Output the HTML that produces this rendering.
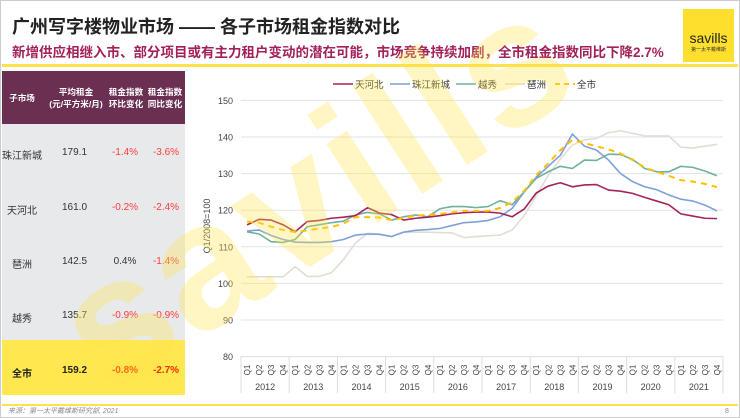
<!DOCTYPE html>
<html style="width:740px;height:418px;overflow:hidden"><head><meta charset="utf-8"><style>
*{box-sizing:border-box}
body{margin:0;width:740px;height:418px;overflow:hidden;background:#fff;font-family:"Liberation Sans","Noto Sans CJK SC",sans-serif;position:relative}
.abs{position:absolute}
svg{display:block;overflow:hidden}
#tbl div{position:absolute;text-align:center;font-size:10px;color:#333}
#tbl div.h{font-size:8.6px;color:#fff;font-weight:bold;line-height:12px}
</style></head><body>
<div class="abs" style="left:0;top:0;width:740px;height:418px;border:1px solid #ccc"></div>
<div class="abs" style="left:12px;top:13px;font-size:18px;font-weight:bold;color:#222;white-space:nowrap">广州写字楼物业市场 —— 各子市场租金指数对比</div>
<div class="abs" style="left:12px;top:41px;font-size:13.5px;font-weight:bold;color:#a3205a;white-space:nowrap">新增供应相继入市、部分项目或有主力租户变动的潜在可能，市场竞争持续加剧，全市租金指数同比下降2.7%</div>
<div class="abs" style="left:683px;top:9px;width:51px;height:53px;background:#ffdf2e;text-align:center">
<div style="margin-top:21px;font-size:14px;color:#222">savills</div><div style="font-size:5px;color:#333">第一太平戴维斯</div></div>
<div class="abs" style="left:2px;top:64px;width:736px;height:3px;background:#ffe14a"></div>
<div class="abs" style="left:2px;top:404px;width:736px;height:2px;background:#ffe14a"></div>
<div class="abs" style="left:8px;top:407px;font-size:7px;line-height:9px;font-style:italic;color:#888">来源：第一太平戴维斯研究部, 2021</div>
<div class="abs" style="left:725px;top:407px;font-size:7px;line-height:9px;color:#888">8</div>

<div id="tbl">
<div style="left:2px;top:71px;width:183px;height:53px;background:#6b2f52"></div>
<div style="left:2px;top:124px;width:183px;height:216px;background:#e8e9eb"></div>
<div style="left:2px;top:340px;width:183px;height:55px;background:#ffe84f"></div>
<div class="h" style="left:2px;top:92px;width:40px">子市场</div>
<div class="h" style="left:44px;top:86px;width:64px">平均租金<br>(元/平方米/月)</div>
<div class="h" style="left:106px;top:86px;width:40px">租金指数<br>环比变化</div>
<div class="h" style="left:145px;top:86px;width:40px">租金指数<br>同比变化</div>
</div>

<svg class="abs" style="left:0;top:0" width="740" height="418" id="chart"></svg>
<svg class="abs" style="left:0;top:0;pointer-events:none" width="740" height="418">
<text x="108" y="398" transform="rotate(-33 108 398)" font-family="Liberation Sans" font-size="178" font-weight="bold" letter-spacing="4" fill="#ffe44d" opacity="0.33">savills</text>
</svg>

<script>
const rows=[["珠江新城","179.1","-1.4%","-3.6%"],["天河北","161.0","-0.2%","-2.4%"],["琶洲","142.5","0.4%","-1.4%"],["越秀","135.7","-0.9%","-0.9%"],["全市","159.2","-0.8%","-2.7%"]];
const tbl=document.getElementById('tbl');
rows.forEach((r,k)=>{
  const y=[147,202,256,310,365][k];
  const cx=[[2,40],[52,45],[104,42],[146,40]];
  r.forEach((t,j)=>{
    const d=document.createElement('div');
    
    
    d.style.left=cx[j][0]+'px';d.style.top=y+'px';d.style.width=cx[j][1]+'px';
    if(j>=2&&t[0]=='-')d.style.color='#ff3b3b';
    if(k==4){d.style.fontWeight='bold';if(j>=2)d.style.color='#ff2a00';else d.style.color='#222';}
    d.textContent=t;tbl.appendChild(d);
  });
});

const years=["2012","2013","2014","2015","2016","2017","2018","2019","2020","2021"];
const quarters=["Q1","Q2","Q3","Q4"];
const yTicks=[80,90,100,110,120,130,140,150];
const tianhebei=[116,117.5,117.3,116,114.1,116.9,117.2,117.8,118.1,118.5,120.7,119.2,118.8,117.3,117.8,118.1,118.5,119,119.3,119.5,119.5,119.2,118.2,120.3,124.7,126.6,127.5,126.4,126.9,127,125.5,125.2,124.6,123.5,122.5,121.5,119,118.4,117.8,117.7];
const zhujiang=[114.3,114.6,113.1,112,111.3,111.2,111.2,111.4,112,113.2,113.5,113.4,112.8,114,114.5,114.7,115,115.8,116.6,116.8,117.2,118.2,120.5,125,129,132,135,140.8,137.5,136.4,133.7,130,127.8,126.4,125.6,124.2,123,122.5,121.4,119.8];
const yuexiu=[114.1,113.5,111.4,111.2,112,115.5,116,116.6,117,118.7,119.4,119,117.3,118.2,118.7,118.2,120.4,121,121,120.7,121,122.6,121.5,125,128.7,130.5,132,131.4,133.7,133.6,135.3,135.2,133.9,131.4,130.5,130.5,132,131.7,130.7,129.4];
const pazhou=[101.8,101.8,101.8,101.8,104.6,101.9,101.9,102.9,106.5,111,113.7,113.5,112.8,114,114,114,113.9,113.8,112.5,112.8,113,113.2,114.6,118.5,124,129.5,134,137.8,139.2,139.6,141.2,141.7,141,140.3,140.3,140.3,137.2,137,137.5,138];
const citywide=[116.9,116.6,115.5,114.6,114,114.5,115,115.4,116.3,118.1,118.1,118,117.3,117.9,118.5,118.7,119,119.4,119.8,119.8,119.8,120.6,122.2,125.3,129.6,132.8,136.4,139.2,138.3,137.5,136.6,135.5,133.7,131.7,130.5,129.4,128.2,127.8,127.2,126.3];
const series=[["天河北",tianhebei,"#a3235c",false],["珠江新城",zhujiang,"#7f9fd9",false],["越秀",yuexiu,"#6fb09e",false],["琶洲",pazhou,"#e2ddd5",false],["全市",citywide,"#ffc000",true]];

const svg=document.getElementById('chart'),NS="http://www.w3.org/2000/svg";
const X0=241,X1=723,Y0=356.6,YPX=3.66;
const n=years.length*4,step=(X1-X0)/n;
const xs=i=>X0+step*(i+0.5);
const ys=v=>Y0-(v-80)*YPX;
function mk(tag,at,txt){const e=document.createElementNS(NS,tag);for(const k in at)e.setAttribute(k,at[k]);if(txt!=null)e.textContent=txt;svg.appendChild(e);return e;}
yTicks.forEach(t=>{
  if(t>80){const g=mk('line',{x1:X0,x2:X1,y1:ys(t),y2:ys(t),stroke:'#e3e3e3','stroke-width':1});
  
  }
  const l=mk('text',{x:233,y:ys(t)+3.5,'text-anchor':'end','font-size':9,fill:'#444','font-family':'Liberation Sans'},t);
  
  
});
const ax=mk('line',{x1:X0,x2:X1,y1:Y0,y2:Y0,stroke:'#ddd'});


const yt=mk('text',{x:210,y:226,'text-anchor':'middle','font-size':9,fill:'#444',transform:'rotate(-90 210 226)','font-family':'Liberation Sans'},'Q1/2008=100');


for(let k=0;k<=years.length;k++){
  const x=X0+step*4*k;
  const s=mk('line',{x1:x,x2:x,y1:Y0,y2:393,stroke:'#ddd'});
  
  
}
years.forEach((yr,k)=>{
  const t=mk('text',{x:X0+step*(4*k+2),y:390,'text-anchor':'middle','font-size':9,fill:'#444','font-family':'Liberation Sans'},yr);
  
  
  quarters.forEach((q,j)=>{
    const x=xs(4*k+j)+3;
    const qt=mk('text',{x:x,y:370,'text-anchor':'middle','font-size':8,fill:'#444',transform:`rotate(-90 ${x} 370)`,'font-family':'Liberation Sans'},q);
    
    
  });
});
[3,1,2,0,4].forEach(si=>{
  const [nm,d,c,dash]=series[si];
  const p=mk('polyline',{points:d.map((v,i)=>xs(i)+','+ys(v)).join(' '),fill:'none',stroke:c,'stroke-width':dash?2:1.6,'stroke-dasharray':dash?'6,5':'none','stroke-linejoin':'round'});
  
  
});
const lx=[333,390,456,505,555];
series.forEach(([nm,d,c,dash],i)=>{
  const l=mk('line',{x1:lx[i],x2:lx[i]+20,y1:84,y2:84,stroke:c,'stroke-width':dash?2:1.6,'stroke-dasharray':dash?'5,4':'none'});
  
  
  const t=mk('text',{x:lx[i]+22,y:88,'font-size':9.5,fill:'#333','font-family':'Liberation Sans, Noto Sans CJK SC, sans-serif'},nm);
  
  
});
</script>
</body></html>
